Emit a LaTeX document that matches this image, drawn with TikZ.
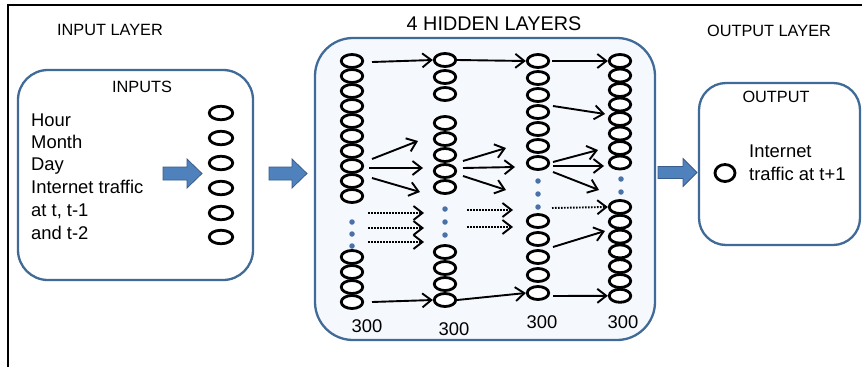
\documentclass[tikz,border=0pt]{standalone}
\usepackage{fontspec}
\setmainfont{Liberation Sans}
\usetikzlibrary{shapes.geometric,arrows.meta}
\definecolor{boxblue}{RGB}{64,106,152}
\definecolor{arrfill}{RGB}{79,129,189}
\definecolor{arrline}{RGB}{56,93,138}
\definecolor{dotblue}{RGB}{74,114,168}
\definecolor{hidfill}{RGB}{245,248,252}
\begin{document}
\begin{tikzpicture}[x=1pt,y=-1pt,
  hn/.style={ellipse, draw, line width=2.8pt, fill=white, minimum width=21.5pt, minimum height=13pt, inner sep=0pt},
  inn/.style={ellipse, draw, line width=2.8pt, fill=white, minimum width=23.5pt, minimum height=13.5pt, inner sep=0pt},
  outn/.style={ellipse, draw, line width=2.8pt, fill=white, minimum width=20pt, minimum height=17pt, inner sep=0pt},
  dotn/.style={circle, fill=dotblue, minimum size=5.5pt, inner sep=0pt},
  arr/.style={line width=1.9pt, -{Straight Barb[length=9pt,width=14pt,line width=1.9pt]}},
  darr/.style={arr, dash pattern=on 1.6pt off 1.4pt},
  bluebox/.style={draw=boxblue, line width=2.3pt},
  blockarr/.style={fill=arrfill, draw=arrline, line width=0.8pt},
  body/.style={inner sep=0pt, font=\fontsize{18.4pt}{22pt}\selectfont},
  head/.style={inner sep=0pt, font=\fontsize{16.3pt}{20pt}\selectfont},
  bighead/.style={inner sep=0pt, font=\fontsize{19.8pt}{24pt}\selectfont}]
\useasboundingbox (0,0) rectangle (862,367);
\fill[white] (0,0) rectangle (862,367);
% frame
\draw[line width=2pt] (8,367) -- (8,5) -- (862,5);
% boxes
\draw[bluebox, fill=white, rounded corners=30pt] (18,70) rectangle (253,280);
\draw[bluebox, fill=hidfill, rounded corners=38pt] (315,38) rectangle (655,340);
\draw[bluebox, fill=white, rounded corners=27pt] (699,83) rectangle (860,245);
% titles
\node[head, anchor=base] (tIL) at (110,35) {INPUT LAYER};
\node[head, anchor=base] (tIN) at (142,92) {INPUTS};
\node[bighead, anchor=base] (tHL) at (494,30) {4 HIDDEN LAYERS};
\node[head, anchor=base] (tOL) at (769,36) {OUTPUT LAYER};
\node[head, anchor=base] (tOU) at (776,102) {OUTPUT};
% input text
\node[body, anchor=base west] (l1) at (31,126) {Hour};
\node[body, anchor=base west] (l2) at (31,148) {Month};
\node[body, anchor=base west] (l3) at (31,170.5) {Day};
\node[body, anchor=base west] (l4) at (31,193.5) {Internet traffic};
\node[body, anchor=base west] (l5) at (31,216.5) {at t, t-1};
\node[body, anchor=base west] (l6) at (31,239) {and t-2};
% input neurons
\foreach \y [count=\i] in {113,138,163,188,213,237}
  \node[inn] (i\i) at (221,\y) {};
% block arrows
\draw[blockarr] (163,167) -- (187,167) -- (187,159) -- (202,173.5) -- (187,188) -- (187,180) -- (163,180) -- cycle;
\draw[blockarr] (269,167) -- (292,167) -- (292,159) -- (307,173.5) -- (292,188) -- (292,180) -- (269,180) -- cycle;
\draw[blockarr] (658,166.5) -- (683,166.5) -- (683,158.5) -- (697,172.5) -- (683,186.5) -- (683,178.5) -- (658,178.5) -- cycle;
% hidden columns
\foreach \y [count=\i] in {61,76,91,106,121,136,151,166,181,196,257,272,287,302}
  \node[hn] (h1-\i) at (352,\y) {};
\foreach \y [count=\i] in {60,77,94,123,139,155,171,187,252,268,284,300}
  \node[hn] (h2-\i) at (445,\y) {};
\foreach \y [count=\i] in {61,78,95,112,129,146,163,221,239,257,275,293}
  \node[hn] (h3-\i) at (538,\y) {};
\foreach \y [count=\i] in {61,75.5,90,104.5,119,133.5,148,162.5,207,221.8,236.6,251.4,266.2,281,295.8}
  \node[hn] (h4-\i) at (620,\y) {};
% dots
\foreach \y [count=\i] in {222,234,246} \node[dotn] (d1-\i) at (352,\y) {};
\foreach \y [count=\i] in {209,222,235} \node[dotn] (d2-\i) at (445,\y) {};
\foreach \y [count=\i] in {181,194,207} \node[dotn] (d3-\i) at (538,\y) {};
\foreach \y [count=\i] in {179,192} \node[dotn] (d4-\i) at (621,\y) {};
% layer 1 -> 2
\draw[arr] ([shift={(20,1)}]h1-1.center) -- (h2-1.west);
\draw[arr] ([shift={(20,-7)}]h1-8.center) -- ([shift={(-27,2)}]h2-5.center);
\draw[arr] ([shift={(17,2)}]h1-8.center) -- ([shift={(-22,-3)}]h2-7.center);
\draw[arr] ([shift={(20,-3)}]h1-9.center) -- ([shift={(-25,5)}]h2-8.center);
\draw[darr] ([shift={(16,-9)}]d1-1.center) -- ([shift={(-21,4)}]d2-1.center);
\draw[darr] ([shift={(16,-6)}]d1-2.center) -- ([shift={(-21,6)}]d2-2.center);
\draw[darr] ([shift={(16,-4)}]d1-3.center) -- ([shift={(-21,7)}]d2-3.center);
\draw[arr] ([shift={(20,0)}]h1-14.center) -- (h2-12.west);
% layer 2 -> 3
\draw[arr] (h2-1.east) -- (h3-1.west);
\draw[arr] ([shift={(18,6)}]h2-6.center) -- ([shift={(-32,2)}]h3-6.center);
\draw[arr] ([shift={(18,-3)}]h2-7.center) -- ([shift={(-23,4)}]h3-7.center);
\draw[arr] ([shift={(18,5)}]h2-7.center) -- ([shift={(-32,9)}]d3-1.center);
\draw[darr] ([shift={(22,1)}]d2-1.center) -- ([shift={(-25,3)}]d3-3.center);
\draw[darr] ([shift={(22,5)}]d2-2.center) -- ([shift={(-25,6)}]h3-8.center);
\draw[arr] (h2-12.east) -- (h3-12.west);
% layer 3 -> 4
\draw[arr] ([xshift=2pt]h3-1.east) -- (h4-1.west);
\draw[arr] ([shift={(15,-6)}]h3-4.center) -- ([shift={(-15,9.5)}]h4-4.center);
\draw[arr] ([shift={(15,-1)}]h3-7.center) -- ([shift={(-22,2)}]h4-7.center);
\draw[arr] ([shift={(15,3)}]h3-7.center) -- ([shift={(-16,3.5)}]h4-8.center);
\draw[arr] ([shift={(15,9)}]h3-7.center) -- ([shift={(-22,-2)}]d4-2.center);
\draw[darr] ([shift={(14,1)}]d3-3.center) -- (h4-9.west);
\draw[arr] ([shift={(15,8)}]h3-9.center) -- ([shift={(-15,-5.6)}]h4-11.center);
\draw[arr] ([shift={(15,3)}]h3-12.center) -- (h4-15.west);
% counts
\node[body, anchor=base] (n1) at (367,332) {300};
\node[body, anchor=base] (n2) at (454,335) {300};
\node[body, anchor=base] (n3) at (542,328) {300};
\node[body, anchor=base] (n4) at (623,328) {300};
% output
\node[outn] (out) at (725,173) {};
\node[body, anchor=base west] (o1) at (749,157) {Internet};
\node[body, anchor=base west] (o2) at (749,180) {traffic at t+1};
\end{tikzpicture}
\end{document}
